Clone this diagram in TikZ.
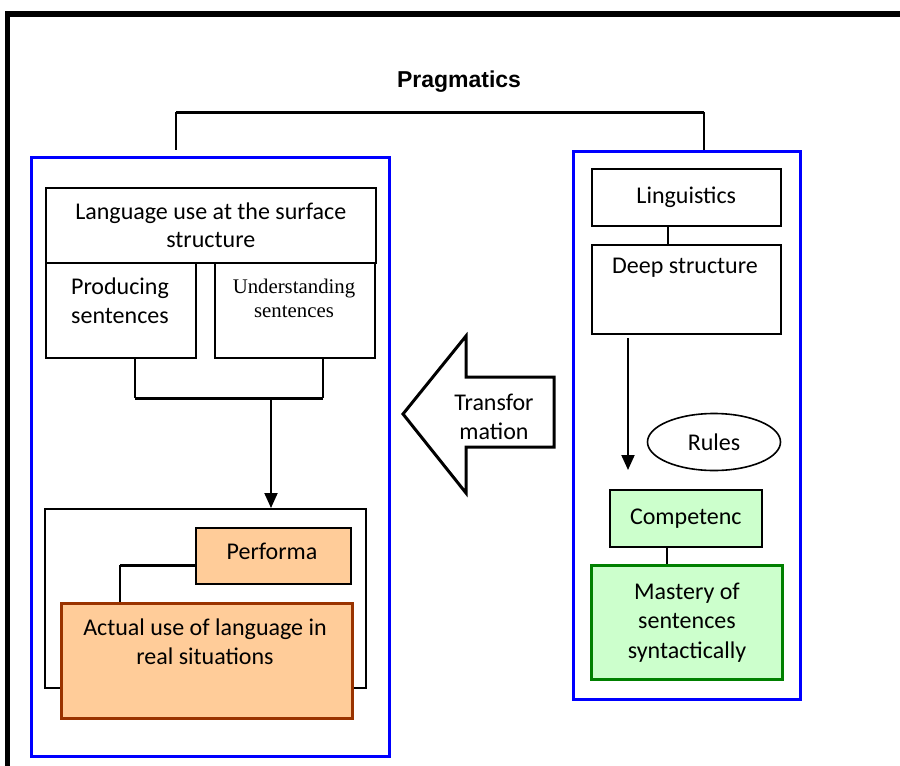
\documentclass[tikz,border=0pt]{standalone}
\usepackage{fontspec}
\setmainfont{Carlito}
\newfontfamily\altserif{Liberation Serif}
\newfontfamily\titlefont{Liberation Sans}
\usetikzlibrary{shapes.geometric,arrows.meta}
\definecolor{peach}{HTML}{FFCC99}
\definecolor{brownb}{HTML}{993300}
\definecolor{lgreen}{HTML}{CCFFCC}
\definecolor{dgreen}{HTML}{008000}
\definecolor{pblue}{HTML}{0000FF}
\begin{document}
\begin{tikzpicture}[x=1pt,y=-1pt,
  box/.style={draw, line width=1.6pt, inner sep=0pt, anchor=north west, align=center,
    font=\fontsize{24}{28}\selectfont},
  bluebox/.style={draw=pblue, line width=3.2pt, inner sep=0pt, anchor=north west},
  txt/.style={inner sep=0pt, align=center, font=\fontsize{24}{29}\selectfont},
  conn/.style={line width=1.6pt},
  thickconn/.style={line width=3pt},
  arr/.style={line width=2pt, -{Triangle[length=15pt,width=13pt]}}]
\useasboundingbox (0,0) rectangle (900,766);
% outer frame
\draw[line width=5.5pt, line join=miter] (7.5,770) -- (7.5,14) -- (905,14);
% title
\node[inner sep=0pt, font=\titlefont\bfseries\fontsize{23}{26}\selectfont] (prag) at (459,82) {Pragmatics};
% blue containers
\node[bluebox, minimum width=358pt, minimum height=599pt] (lblue) at (30,156) {};
\node[bluebox, minimum width=227pt, minimum height=548pt] (rblue) at (572,150) {};
% left side
\node[box, minimum width=330pt, minimum height=75pt] (top) at (45,187) {Language use at the surface\\structure};
\node[box, minimum width=150pt, minimum height=95pt] (prod) at (45,262) {};
\node[txt] (prodt) at (120,301) {Producing\\sentences};
\node[box, minimum width=160pt, minimum height=95pt] (und) at (214,262) {};
\node[txt, font=\altserif\fontsize{20.8}{24}\selectfont] (undt) at (294,298) {Understanding\\sentences};
\node[box, minimum width=321pt, minimum height=179pt] (big) at (44,508) {};
\node[box, fill=peach, minimum width=155pt, minimum height=56pt] (perf) at (195,527) {};
\node[txt] (perft) at (272,551) {Performa};
\node[box, fill=peach, draw=brownb, line width=3pt, minimum width=291pt, minimum height=115pt] (act) at (60,602) {};
\node[txt] (actt) at (205,642) {Actual use of language in\\real situations};
% right side
\node[box, minimum width=189pt, minimum height=57pt] (ling) at (591,168) {Linguistics};
\node[box, minimum width=189pt, minimum height=89pt] (deep) at (591,244) {};
\node[txt] (deept) at (685,268) {Deep structure};
\node[draw, ellipse, line width=1.6pt, inner sep=0pt, minimum width=133pt, minimum height=57pt,
  font=\fontsize{24}{28}\selectfont] (rules) at (714,442) {Rules};
\node[box, fill=lgreen, minimum width=152pt, minimum height=57pt] (comp) at (609,489) {Competenc};
\node[box, fill=lgreen, draw=dgreen, line width=3pt, minimum width=191pt, minimum height=114pt,
  font=\fontsize{24}{29.5}\selectfont] (mast) at (590,564) {Mastery of\\sentences\\syntactically};
% transformation arrow
\draw[line width=3pt, fill=white, line join=miter] (403,414) -- (466,336) -- (466,377) -- (554,377)
  -- (554,447) -- (466,447) -- (466,493) -- cycle;
\node[txt] (trans) at (494,417) {Transfor\\mation};
% pragmatics bracket
\coordinate (pl) at (176,112);
\coordinate (pr) at (704,112);
\coordinate (plb) at (176,150);
\draw[conn] (pl) -- (plb);
\draw[conn] (pr) -- (pr |- rblue.north);
\draw[thickconn] (pl) -- (pr);
% producing / understanding join
\coordinate (j1) at (135,398);
\coordinate (j2) at (323,398);
\coordinate (j3) at (271,398);
\draw[conn] (prod.south -| j1) -- (j1);
\draw[conn] (und.south -| j2) -- (j2);
\draw[thickconn] (j1) -- (j2);
\draw[arr] (j3) -- (j3 |- big.north);
% performa to actual
\coordinate (k1) at (120,565);
\draw[thickconn] (perf.west |- k1) -- (k1);
\draw[conn] (k1) -- (k1 |- act.north);
% right connectors
\coordinate (m1) at (668,0);
\coordinate (m2) at (667,0);
\draw[conn] (ling.south -| m1) -- (deep.north -| m1);
\draw[conn] (comp.south -| m2) -- (mast.north -| m2);
\coordinate (d1) at (628,338);
\coordinate (d2) at (628,470);
\draw[arr] (d1) -- (d2);
\end{tikzpicture}
\end{document}
